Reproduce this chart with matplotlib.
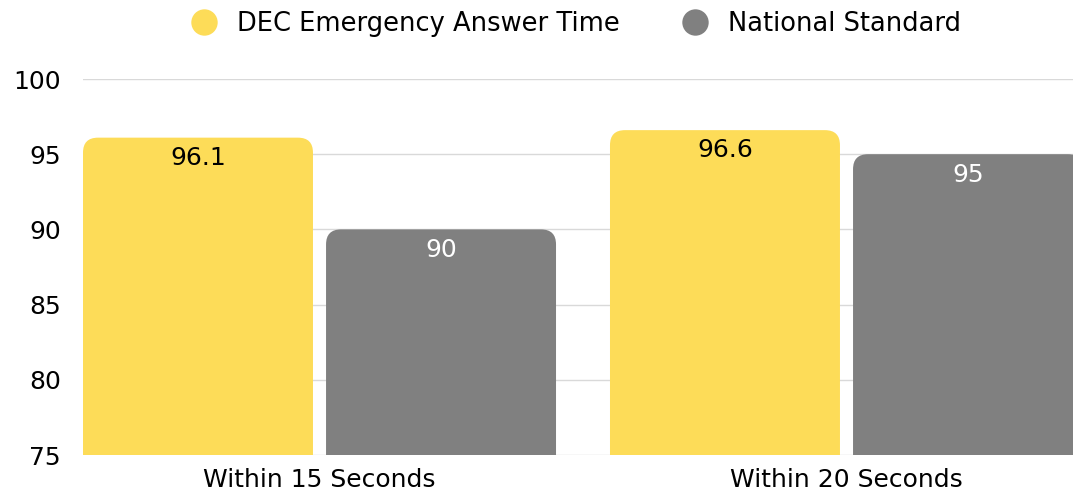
import matplotlib
matplotlib.use('Agg')
import matplotlib.pyplot as plt
from matplotlib.patches import FancyBboxPatch
from matplotlib.lines import Line2D
import numpy as np

categories = ['Within 15 Seconds', 'Within 20 Seconds']
series_names = ['DEC Emergency Answer Time', 'National Standard']
dec_values = [96.1, 96.6]
national_values = [90, 95]
yticks = [75, 80, 85, 90, 95, 100]

colors = ['#FDDC58', '#808080']
label_colors = ['black', 'white']

plt.rcParams['font.family'] = 'DejaVu Sans'

fig = plt.figure(figsize=(10.73, 4.94), dpi=100)
ax = fig.add_axes([83 / 1073, 39 / 494, 990 / 1073, 376 / 494])

ax.set_ylim(75, 100)
ax.set_xlim(-0.4488, 1.4298)
ax.set_yticks(yticks)
ax.yaxis.grid(True, color='#d9d9d9', linewidth=1)
ax.set_axisbelow(True)
for s in ax.spines.values():
    s.set_visible(False)
ax.tick_params(axis='y', length=0, labelsize=18, pad=16)
ax.tick_params(axis='x', length=0, labelsize=18, pad=9)
ax.set_xticks(np.arange(len(categories)))
ax.set_xticklabels(categories)

# pixel scales for rounded corners
fig.canvas.draw()
p0 = ax.transData.transform((0, 75))
p1 = ax.transData.transform((1, 80))
xpx = p1[0] - p0[0]
ypx = (p1[1] - p0[1]) / 5.0
aspect = xpx / ypx

width = 0.4364
offset = 0.2306
radius = 15 / xpx

x = np.arange(len(categories))
for i, vals in enumerate([dec_values, national_values]):
    for j, v in enumerate(vals):
        xc = x[j] + (2 * i - 1) * offset
        patch = FancyBboxPatch((xc - width / 2, 70), width, v - 70,
                               boxstyle='round,pad=0,rounding_size=%f' % radius,
                               mutation_aspect=aspect,
                               facecolor=colors[i], edgecolor='none',
                               zorder=2, clip_on=True)
        ax.add_patch(patch)
        ax.annotate('%g' % v, (xc, v), xytext=(0, -6), textcoords='offset points',
                    ha='center', va='top', fontsize=18, color=label_colors[i],
                    zorder=3)

handles = [Line2D([], [], marker='o', linestyle='none', markersize=19,
                  markerfacecolor=c, markeredgecolor='none') for c in colors]
fig.legend(handles, series_names, loc='upper center', bbox_to_anchor=(0.531, 1.025),
           ncol=2, frameon=False, fontsize=18.5, handletextpad=0.3,
           columnspacing=1.9)

fig.savefig('out.png', dpi=100)
